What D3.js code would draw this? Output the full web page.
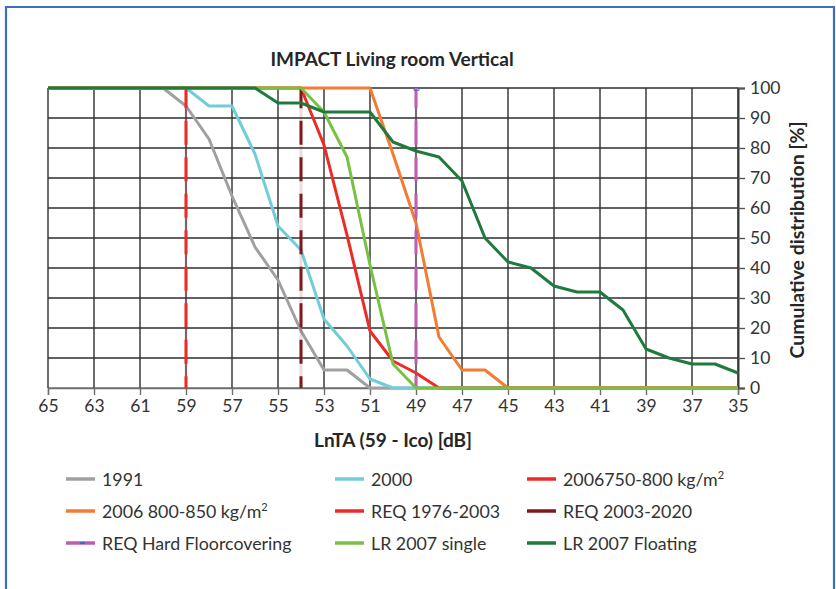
<!DOCTYPE html>
<html>
<head>
<meta charset="utf-8">
<script src="https://cdn.jsdelivr.net/npm/d3@7"></script>
<style>
  html, body { margin: 0; padding: 0; background: #fff; }
  svg { display: block; }
  text { font-family: Lato, "Open Sans", sans-serif; fill: #333; }
</style>
</head>
<body>
<svg id="chart" width="836" height="589"></svg>
<script>
// ---- Data ----
const levels = [65,64,63,62,61,60,59,58,57,56,55,54,53,52,51,50,49,48,47,46,45,44,43,42,41,40,39,38,37,36,35];
const xTicks = [65,63,61,59,57,55,53,51,49,47,45,43,41,39,37,35];
const yTicks = [0,10,20,30,40,50,60,70,80,90,100];

const s1991     = [100,100,100,100,100,100,94,83,64,47,36,19,6,6,0,0,0,0,0,0,0,0,0,0,0,0,0,0,0,0,0];
const s2000     = [100,100,100,100,100,100,100,94,94,78,54,46,23,14,3,0,0,0,0,0,0,0,0,0,0,0,0,0,0,0,0];
const s2006a    = [100,100,100,100,100,100,100,100,100,100,100,100,81,51,19,9,5,0,0,0,0,0,0,0,0,0,0,0,0,0,0];
const s2006b    = [100,100,100,100,100,100,100,100,100,100,100,100,100,100,100,78,55,17,6,6,0,0,0,0,0,0,0,0,0,0,0];
const sSingle   = [100,100,100,100,100,100,100,100,100,100,100,100,92,77,41,8,0,0,0,0,0,0,0,0,0,0,0,0,0,0,0];
const sFloating = [100,100,100,100,100,100,100,100,100,100,95,95,92,92,92,82,79,77,69,50,42,40,34,32,32,26,13,10,8,8,5];

const req1976 = 59;
const req2003 = 54;
const reqHard = 49;

const legendLabels = ["1991","2000","2006750-800 kg/m²","2006 800-850 kg/m²","REQ 1976-2003","REQ 2003-2020","REQ Hard Floorcovering","LR 2007 single","LR 2007 Floating"];
const colors = {
  s1991: "#a0a0a0", s2000: "#72ccd9", s2006a: "#ee2a26", s2006b: "#f47b30",
  req1976: "#ee2a26", req2003: "#7e1a1c", reqHard: "#bf5db3",
  single: "#78c144", floating: "#1f7a3b"
};

// ---- Chart ----
const svg = d3.select("#chart");
const x = d3.scaleLinear().domain([65, 35]).range([48, 738]);
const y = d3.scaleLinear().domain([0, 100]).range([388, 88]);

// frame
svg.append("path")
  .attr("d", "M6,600 L6,7 L834,7 L834,600")
  .attr("fill", "none").attr("stroke", "#3a6fc1").attr("stroke-width", 2.2);

// title
svg.append("text").attr("x", 392).attr("y", 66).attr("text-anchor", "middle")
  .style("font-size", "19px").style("font-weight", 700).style("fill", "#262626")
  .text("IMPACT Living room Vertical");

// grid
const g = svg.append("g");
g.selectAll("line.h").data(yTicks).join("line")
  .attr("x1", x(65)).attr("x2", x(35))
  .attr("y1", d => y(d)).attr("y2", d => y(d))
  .attr("stroke", d => d === 0 ? "#7a7a7a" : "#2e2e2e").attr("stroke-width", 1.4);
g.selectAll("line.v").data(xTicks).join("line")
  .attr("x1", d => x(d)).attr("x2", d => x(d))
  .attr("y1", y(0)).attr("y2", y(100))
  .attr("stroke", "#2e2e2e").attr("stroke-width", 1.4);

// x axis
const xAxis = d3.axisBottom(x).tickValues(xTicks).tickSize(7).tickPadding(5).tickFormat(d3.format("d"));
const xa = svg.append("g").attr("transform", `translate(0,${y(0)})`).call(xAxis);
xa.select(".domain").attr("stroke", "#6e6e6e").attr("stroke-width", 1.4);
xa.selectAll(".tick line").attr("stroke", "#6e6e6e").attr("stroke-width", 1.4);
xa.selectAll(".tick text").style("font-size", "17.5px").style("font-family", "Lato, sans-serif").attr("fill", "#333");

// y axis on the right
const yAxis = d3.axisRight(y).tickValues(yTicks).tickSize(7).tickPadding(5).tickFormat(d3.format("d"));
const ya = svg.append("g").attr("transform", `translate(${x(35)},0)`).call(yAxis);
ya.select(".domain").attr("stroke", "#3a3a3a").attr("stroke-width", 2);
ya.selectAll(".tick line").attr("stroke", "#555").attr("stroke-width", 1.4);
ya.selectAll(".tick text").style("font-size", "17.5px").style("font-family", "Lato, sans-serif").attr("fill", "#333");

// axis titles
svg.append("text").attr("x", 393).attr("y", 447).attr("text-anchor", "middle")
  .style("font-size", "19px").style("font-weight", 700).style("fill", "#262626")
  .text("LnTA (59 - Ico) [dB]");
svg.append("text").attr("transform", `translate(804,240) rotate(-90)`).attr("text-anchor", "middle")
  .style("font-size", "19.5px").style("font-weight", 700).style("fill", "#262626")
  .text("Cumulative distribution [%]");

// series
const line = d3.line().x((d, i) => x(levels[i])).y(d => y(d));
function drawSeries(vals, color) {
  svg.append("path").datum(vals).attr("d", line)
    .attr("fill", "none").attr("stroke", color).attr("stroke-width", 3)
    .attr("stroke-linejoin", "round");
}
function drawReq(v, color) {
  svg.append("line").attr("x1", x(v)).attr("x2", x(v)).attr("y1", y(100)).attr("y2", y(0))
    .attr("stroke", color).attr("stroke-opacity", 0.15).attr("stroke-width", 3);
  svg.append("line").attr("x1", x(v)).attr("x2", x(v)).attr("y1", y(100)).attr("y2", y(0))
    .attr("stroke", color).attr("stroke-width", 3)
    .attr("stroke-dasharray", "24,12.5").attr("stroke-dashoffset", 3.7);
}
drawSeries(s1991, colors.s1991);
drawSeries(s2000, colors.s2000);
drawSeries(s2006a, colors.s2006a);
drawSeries(s2006b, colors.s2006b);
drawReq(req1976, colors.req1976);
drawReq(req2003, colors.req2003);
drawReq(reqHard, colors.reqHard);
svg.append("rect").attr("x", x(reqHard) - 2).attr("y", y(100) - 0.5).attr("width", 5).attr("height", 3)
  .attr("fill", "none").attr("stroke", "#4a62c4").attr("stroke-width", 0.8);
drawSeries(sSingle, colors.single);
drawSeries(sFloating, colors.floating);

// legend
const legendColors = [colors.s1991, colors.s2000, colors.s2006a, colors.s2006b, colors.req1976, colors.req2003, colors.reqHard, colors.single, colors.floating];
const colX = [66, 335, 527];
const rowY = [479, 511, 543];
const lg = svg.append("g");
legendLabels.forEach((lab, i) => {
  const cx = colX[i % 3], cy = rowY[Math.floor(i / 3)];
  lg.append("line").attr("x1", cx).attr("x2", cx + 29).attr("y1", cy).attr("y2", cy)
    .attr("stroke", legendColors[i]).attr("stroke-width", 3.5);
  if (i === 6) {
    lg.append("rect").attr("x", cx + 14).attr("y", cy - 1).attr("width", 5).attr("height", 2).attr("fill", "#4a62c4");
  }
  const t = lg.append("text").attr("x", cx + 36).attr("y", cy + 6.5).style("font-size", "17.8px").style("fill", "#333");
  const m = lab.match(/^(.*m)²$/);
  if (m) {
    t.append("tspan").text(m[1]);
    t.append("tspan").attr("dy", -7).style("font-size", "11px").text("2");
  } else {
    t.text(lab);
  }
});
</script>
</body>
</html>
